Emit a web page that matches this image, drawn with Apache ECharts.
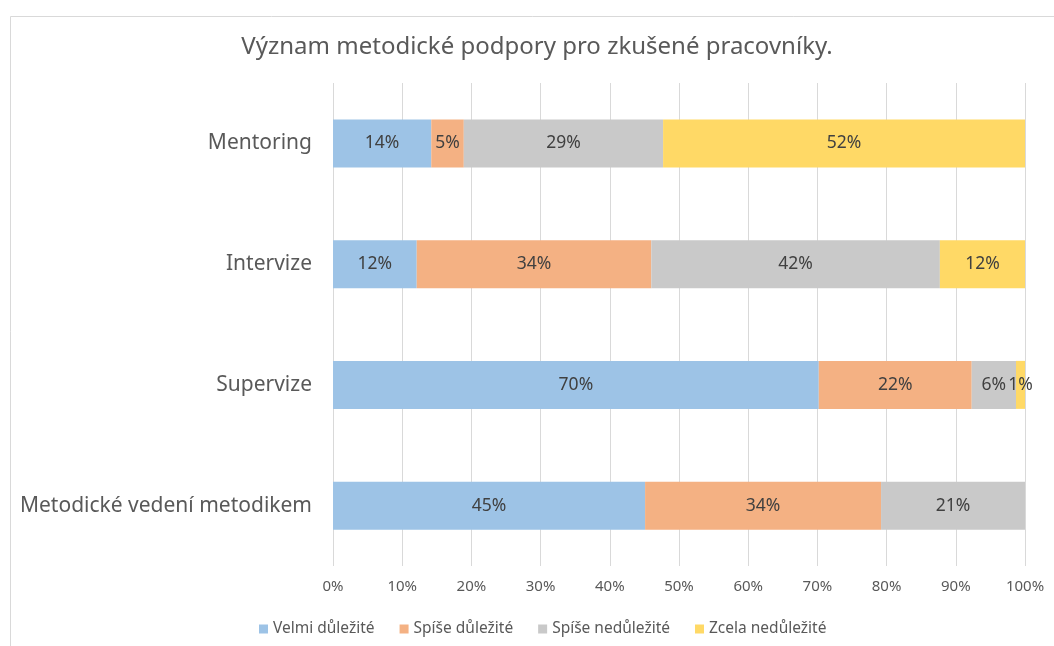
<!DOCTYPE html>
<html>
<head>
<meta charset="utf-8">
<script src="https://cdn.jsdelivr.net/npm/echarts@6/dist/echarts.min.js"></script>
<style>
html,body{margin:0;padding:0;background:#fff;}
#chart{width:1054px;height:646px;}
</style>
</head>
<body>
<div id="chart"></div>
<script>
const categories = ['Mentoring', 'Intervize', 'Supervize', 'Metodické vedení metodikem'];
const seriesNames = ['Velmi důležité', 'Spíše důležité', 'Spíše nedůležité', 'Zcela nedůležité'];
const velmiDulezite = [14.2, 12.1, 70.2, 45.1];
const spiseDulezite = [4.7, 33.9, 22.1, 34.1];
const spiseNedulezite = [28.8, 41.7, 6.4, 20.8];
const zcelaNedulezite = [52.3, 12.3, 1.3, 0];
const xTicks = [0, 10, 20, 30, 40, 50, 60, 70, 80, 90, 100];

const colors = ['#9DC3E6', '#F4B183', '#C9C9C9', '#FFD966'];
const FONT = 'Noto Sans';
const seriesData = [velmiDulezite, spiseDulezite, spiseNedulezite, zcelaNedulezite];

const chart = echarts.init(document.getElementById('chart'));
chart.setOption({
  animation: false,
  textStyle: { fontFamily: FONT },
  title: {
    text: 'Význam metodické podpory pro zkušené pracovníky.',
    left: 532, top: 30, textAlign: 'center',
    textStyle: { fontFamily: FONT, fontSize: 24, fontWeight: 'normal', color: '#595959' }
  },
  graphic: [{
    type: 'rect', left: 8, top: 14, silent: true,
    shape: { width: 1100, height: 700 },
    style: { fill: 'none', stroke: '#d9d9d9', lineWidth: 1 }
  }],
  legend: {
    left: 254, top: 616,
    itemWidth: 9, itemHeight: 9, itemGap: 25,
    icon: 'rect',
    textStyle: { fontFamily: FONT, fontSize: 15.5, color: '#595959' },
    data: seriesNames
  },
  grid: { left: 333, right: 29, top: 83, bottom: 80, containLabel: false },
  xAxis: {
    type: 'value', min: xTicks[0], max: xTicks[xTicks.length - 1], interval: 10,
    axisLine: { show: false }, axisTick: { show: false },
    splitLine: { show: true, lineStyle: { color: '#d9d9d9', width: 1 } },
    axisLabel: { formatter: '{value}%', color: '#595959', fontSize: 15, margin: 13, fontFamily: FONT }
  },
  yAxis: {
    type: 'category', data: categories, inverse: true,
    axisLine: { show: false }, axisTick: { show: false },
    axisLabel: { color: '#595959', fontSize: 21, margin: 21, fontFamily: FONT, padding: [4, 0, 0, 0] }
  },
  series: seriesNames.map((name, i) => ({
    name: name, type: 'bar', stack: 'total', barWidth: 48,
    itemStyle: { color: colors[i] },
    label: {
      show: true, position: 'inside', color: '#404040', fontSize: 17.5, fontFamily: FONT,
      formatter: p => p.value > 0 ? Math.round(p.value) + '%' : ''
    },
    data: seriesData[i]
  }))
});
</script>
</body>
</html>
